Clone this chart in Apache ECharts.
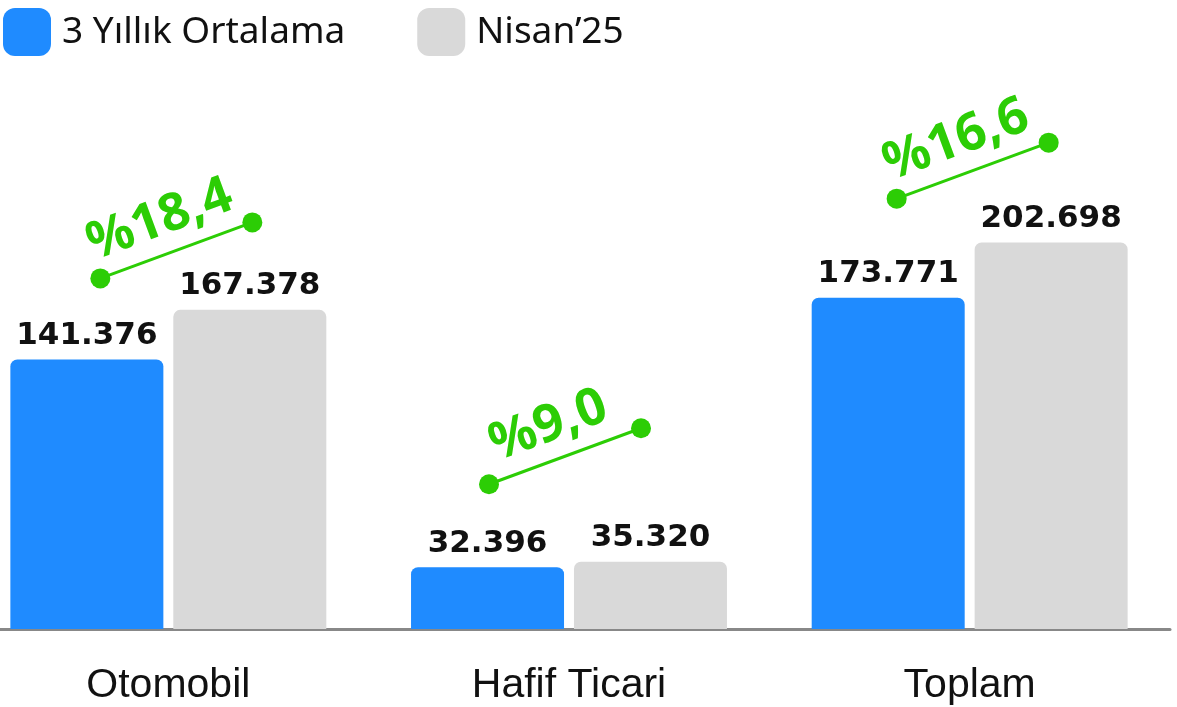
<!DOCTYPE html>
<html>
<head>
<meta charset="utf-8">
<script src="https://cdn.jsdelivr.net/npm/echarts@6/dist/echarts.min.js"></script>
<style>
html, body { margin: 0; padding: 0; background: #fff; overflow: hidden; }
/* canvas pushed a little past the left edge so the first bar can start near x=11 */
#chart { width: 1209px; height: 707px; margin-left: -32px; }
</style>
</head>
<body>
<div id="chart"></div>
<script>
var categories = ['Otomobil', 'Hafif Ticari', 'Toplam'];
var avg3y = [141376, 32396, 173771];
var april25 = [167378, 35320, 202698];
var seriesNames = ['3 Yıllık Ortalama', 'Nisan\u201925'];

// where each growth badge sits, relative to the category centre / blue bar top (px)
var badgeLayout = [[-68, 81], [-80, 83], [-73, 99]];

var GREEN = '#2ccd05';

function fmt(v) {
  return v.toLocaleString('tr-TR');
}
function growth(i) {
  return '%' + ((april25[i] / avg3y[i] - 1) * 100).toFixed(1).replace('.', ',');
}

var chart = echarts.init(document.getElementById('chart'));

var labelStyle = {
  show: true,
  position: 'top',
  distance: 8,
  color: '#111',
  fontFamily: 'DejaVu Sans',
  fontWeight: 'bold',
  fontSize: 31,
  formatter: function (p) { return fmt(p.value); }
};

var option = {
  animation: false,
  legend: {
    left: 30,
    top: 3,
    itemWidth: 48,
    itemHeight: 48,
    itemGap: 72,
    icon: 'roundRect',
    textStyle: {
      fontFamily: 'Noto Sans',
      fontSize: 37,
      color: '#111',
      width: 300,
      padding: [0, 0, 0, 6]
    },
    data: seriesNames
  },
  grid: { left: 0, right: 7, top: 57, bottom: 78 },
  xAxis: {
    type: 'category',
    data: categories,
    axisTick: { show: false },
    axisLine: { lineStyle: { color: '#888', width: 3 } },
    axisLabel: {
      margin: 36,
      fontFamily: 'Liberation Sans',
      fontSize: 41,
      color: '#111'
    }
  },
  yAxis: {
    type: 'value',
    min: 0,
    max: 300000,
    show: false,
    splitLine: { show: false }
  },
  series: [
    {
      name: seriesNames[0],
      type: 'bar',
      barWidth: 153,
      barGap: '6.5%',
      data: avg3y,
      itemStyle: { color: '#1f8bff', borderRadius: [7, 7, 0, 0] },
      label: labelStyle
    },
    {
      name: seriesNames[1],
      type: 'bar',
      barWidth: 153,
      data: april25,
      itemStyle: { color: '#d9d9d9', borderRadius: [7, 7, 0, 0] },
      label: labelStyle
    },
    {
      type: 'custom',
      clip: false,
      silent: true,
      z: 10,
      data: categories.map(function (c, i) { return [i, avg3y[i]]; }),
      renderItem: function (params, api) {
        var i = api.value(0);
        var p = api.coord([i, api.value(1)]);
        var lay = badgeLayout[i];
        var x1 = p[0] + lay[0], y1 = p[1] - lay[1];
        var x2 = x1 + 152, y2 = y1 - 56;
        var len = Math.sqrt(152 * 152 + 56 * 56);
        var ux = 152 / len, uy = -56 / len;
        var nx = uy, ny = -ux; // normal pointing up
        var mx = (x1 + x2) / 2 + nx * 34 - ux * 5;
        var my = (y1 + y2) / 2 + ny * 34 - uy * 5;
        return {
          type: 'group',
          children: [
            { type: 'line', shape: { x1: x1, y1: y1, x2: x2, y2: y2 },
              style: { stroke: GREEN, lineWidth: 3 } },
            { type: 'circle', shape: { cx: x1, cy: y1, r: 10 }, style: { fill: GREEN } },
            { type: 'circle', shape: { cx: x2, cy: y2, r: 10 }, style: { fill: GREEN } },
            { type: 'text', x: mx, y: my, rotation: Math.atan2(56, 152),
              style: {
                text: growth(i),
                fill: GREEN,
                font: 'bold 52px "Noto Sans"',
                align: 'center',
                verticalAlign: 'middle'
              } }
          ]
        };
      }
    }
  ]
};

chart.setOption(option);
</script>
</body>
</html>
